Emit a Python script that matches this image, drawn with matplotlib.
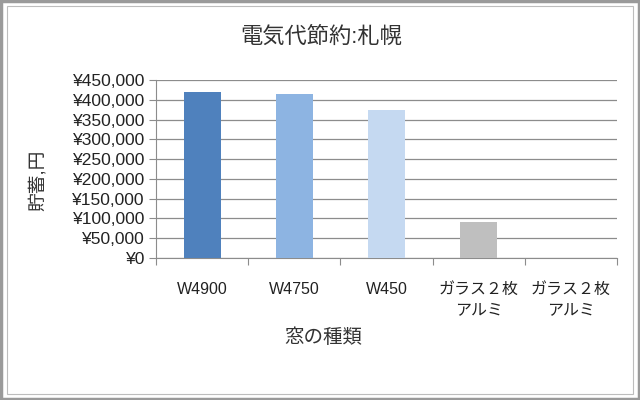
import matplotlib
matplotlib.use("Agg")
import matplotlib.pyplot as plt
from matplotlib.patches import Rectangle
from matplotlib.ticker import FuncFormatter

plt.rcParams['font.family'] = ['Liberation Sans', 'Noto Sans CJK JP', 'DejaVu Sans']

# data
categories = ['W4900', 'W4750', 'W450', 'ガラス２枚\nアルミ', 'ガラス２枚\nアルミ']
savings = [420000, 415000, 374000, 90000, 0]
bar_colors = ['#4F81BD', '#8DB4E2', '#C5D9F1', '#BFBFBF', '#BFBFBF']
title = '電気代節約:札幌'
xlabel = '窓の種類'
ylabel = '貯蓄,円'

fig = plt.figure(figsize=(6.4, 4.0), dpi=100)
ax = fig.add_axes([156 / 640, 1 - 258 / 400, (617 - 156) / 640, (258 - 80) / 400])

x = range(len(categories))
ax.bar(x, savings, width=0.4, color=bar_colors, zorder=3)

ax.set_xlim(-0.5, len(categories) - 0.5)
ax.set_ylim(0, 450000)
ax.set_yticks(range(0, 450001, 50000))
ax.yaxis.set_major_formatter(FuncFormatter(lambda v, p: f'¥{int(v):,}'))
ax.grid(axis='y', color='#8c8c8c', linewidth=0.9, zorder=0)

# category labels between boundary ticks
ax.set_xticks([i - 0.5 for i in range(len(categories) + 1)])
ax.set_xticklabels([])
ax.set_xticks(list(x), minor=True)
ax.set_xticklabels(categories, minor=True, fontsize=11.5, color='#222222', linespacing=1.45)
ax.tick_params(axis='x', which='minor', length=0, pad=17)
ax.tick_params(axis='x', which='major', length=5, color='#8c8c8c', direction='out')
ax.tick_params(axis='y', length=5, color='#8c8c8c', labelsize=12.5, labelcolor='#222222', pad=3)

for side in ['top', 'right']:
    ax.spines[side].set_visible(False)
ax.spines['left'].set_color('#8c8c8c')
ax.spines['bottom'].set_color('#8c8c8c')

fig.text(0.502, 0.907, title, ha='center', va='center', fontsize=16, color='#333333')
fig.text(0.505, 0.155, xlabel, ha='center', va='center', fontsize=14, color='#333333')
fig.text(0.060, 0.55, ylabel, ha='center', va='center', fontsize=13.5, rotation=90, color='#333333')

# outer frame
fig.patches.append(Rectangle((0.002, 0.003), 0.996, 0.994, transform=fig.transFigure,
                             fill=False, edgecolor='#9a9a9a', linewidth=2.5))
fig.patches.append(Rectangle((0.011, 0.016), 0.978, 0.968, transform=fig.transFigure,
                             fill=False, edgecolor='#bdbdbd', linewidth=0.8))

fig.savefig('out.png', dpi=100)
